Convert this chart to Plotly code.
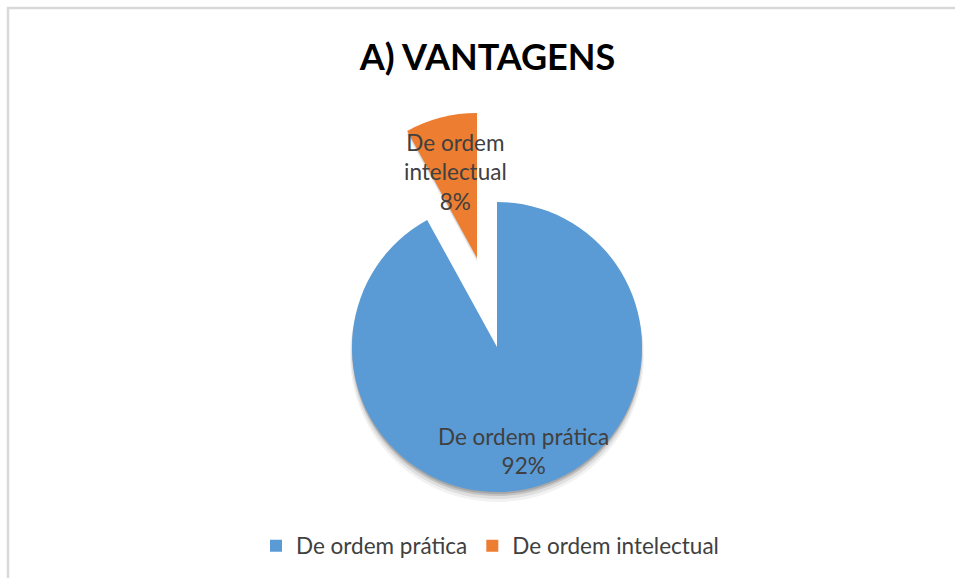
import plotly.graph_objects as go

labels = ["De ordem prática", "De ordem intelectual"]
values = [92, 8]
colors = ["#5B9BD5", "#ED7D31"]
title_text = "A) VANTAGENS"

W, H = 955, 578
FONT = "Lato"
TXT = "#404040"

def dom(cx, cy, r):
    return dict(x=[(cx - r) / W, (cx + r) / W], y=[1 - (cy + r) / H, 1 - (cy - r) / H])

CLEAR = "rgba(0,0,0,0)"
fig = go.Figure()

common = dict(labels=labels, values=values, sort=False, direction="clockwise",
              rotation=0, textinfo="none", hoverinfo="skip", showlegend=False)

# soft shadow for the main pie
for dy, dr, a in [(8, 2, 0.05), (6, 1, 0.08), (4, 0, 0.12), (2, 0, 0.14)]:
    fig.add_trace(go.Pie(domain=dom(497, 347 + dy, 145 + dr),
                         marker=dict(colors=[f"rgba(0,0,0,{a})", CLEAR], line=dict(width=0)),
                         **common))
for dy, dr, a in [(4, 1, 0.06), (2, 0, 0.10)]:
    fig.add_trace(go.Pie(domain=dom(477, 258 + dy, 145 + dr),
                         marker=dict(colors=[CLEAR, f"rgba(0,0,0,{a})"], line=dict(width=0)),
                         **common))

# main slice (blue) and exploded slice (orange)
fig.add_trace(go.Pie(domain=dom(497, 347, 145),
                     marker=dict(colors=[colors[0], CLEAR], line=dict(width=0)), **common))
fig.add_trace(go.Pie(domain=dom(477, 258, 145),
                     marker=dict(colors=[CLEAR, colors[1]], line=dict(width=0)), **common))

# legend entries
for lab, col in zip(labels, colors):
    fig.add_trace(go.Scatter(x=[None], y=[None], mode="markers", name=lab,
                             marker=dict(symbol="square", size=12, color=col)))

total = sum(values)
label_pos = [(523, 451), (455, 172)]
label_txt = ["De ordem prática", "De ordem<br>intelectual"]
for (px, py), t, v in zip(label_pos, label_txt, values):
    fig.add_annotation(x=px / W, y=1 - py / H, xref="paper", yref="paper",
                       text=f"{t}<br>{round(100 * v / total)}%", showarrow=False,
                       font=dict(family=FONT, size=22.5, color=TXT), align="center",
                       xanchor="center", yanchor="middle")

fig.add_shape(type="rect", xref="paper", yref="paper", x0=8 / W, x1=1.02,
              y0=-0.02, y1=1 - 8 / H, line=dict(color="#D9D9D9", width=2.5),
              fillcolor="rgba(0,0,0,0)")

fig.update_layout(
    width=W, height=H,
    margin=dict(l=0, r=0, t=0, b=0, pad=0, autoexpand=False),
    paper_bgcolor="white", plot_bgcolor="white",
    title=dict(text=f"<b>{title_text}</b>", x=487.5 / W, y=1 - 57 / H,
               xanchor="center", yanchor="middle", xref="paper", yref="paper",
               font=dict(family=FONT, size=36, color="#000000")),
    xaxis=dict(visible=False), yaxis=dict(visible=False),
    legend=dict(orientation="h", x=490 / W, y=1 - 546 / H, xanchor="center",
                yanchor="middle", font=dict(family=FONT, size=22.5, color=TXT),
                itemwidth=30, bgcolor="rgba(0,0,0,0)"),
)

fig.write_html("out.html", config={"displayModeBar": False},
               post_script="document.body.style.margin='0';document.body.style.overflow='hidden';")
